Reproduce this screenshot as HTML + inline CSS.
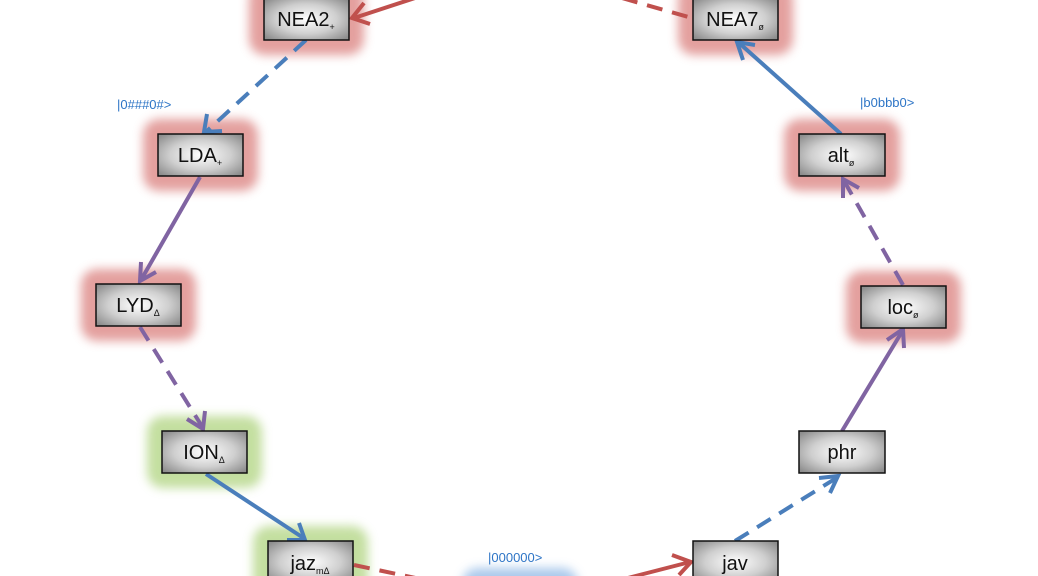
<!DOCTYPE html>
<html><head><meta charset="utf-8"><style>
html,body{margin:0;padding:0;background:#fff;width:1038px;height:576px;overflow:hidden}
svg text{font-family:"Liberation Sans","DejaVu Sans",sans-serif}
</style></head><body>
<svg width="1038" height="576" viewBox="0 0 1038 576" xmlns="http://www.w3.org/2000/svg">
<defs>
<radialGradient id="g" cx="50%" cy="50%" r="65%">
<stop offset="0" stop-color="#ffffff"/><stop offset="0.55" stop-color="#cfcfcf"/><stop offset="1" stop-color="#8e8e8e"/>
</radialGradient>
<filter id="blur" x="-50%" y="-50%" width="200%" height="200%"><feGaussianBlur stdDeviation="5"/></filter>
</defs>
<g id="glows" opacity="0.85">
<rect x="249" y="-17" width="115" height="72" rx="16" fill="#df8f8d" filter="url(#blur)"/>
<rect x="678" y="-17" width="115" height="72" rx="16" fill="#df8f8d" filter="url(#blur)"/>
<rect x="143" y="119" width="115" height="72" rx="16" fill="#df8f8d" filter="url(#blur)"/>
<rect x="81" y="269" width="115" height="72" rx="16" fill="#df8f8d" filter="url(#blur)"/>
<rect x="147" y="416" width="115" height="72" rx="16" fill="#b9d98f" filter="url(#blur)"/>
<rect x="253" y="526" width="115" height="72" rx="16" fill="#b9d98f" filter="url(#blur)"/>
<rect x="784" y="119" width="116" height="72" rx="16" fill="#df8f8d" filter="url(#blur)"/>
<rect x="846" y="271" width="115" height="72" rx="16" fill="#df8f8d" filter="url(#blur)"/>
<rect x="462" y="568" width="116" height="36" rx="16" fill="#9cc0e8" filter="url(#blur)"/>
</g>
<g fill="none" stroke-width="4" stroke-linecap="butt">
<line x1="415" y1="-2" x2="354" y2="18" stroke="#c0504d"/>
<polyline points="364,3 352,18 370,24" stroke="#c0504d"/>
<line x1="622" y1="-2" x2="692" y2="18" stroke="#c0504d" stroke-dasharray="16,10"/>
<line x1="306" y1="40" x2="207" y2="131" stroke="#4a7ebb" stroke-dasharray="16,10"/>
<polyline points="207,114 204,132 222,131" stroke="#4a7ebb"/>
<line x1="200" y1="177" x2="141" y2="280" stroke="#8064a2"/>
<polyline points="141,262 140,281 156,272" stroke="#8064a2"/>
<line x1="140" y1="327" x2="203" y2="428" stroke="#8064a2" stroke-dasharray="16,10"/>
<polyline points="187,419 203,429 205,411" stroke="#8064a2"/>
<line x1="206" y1="474" x2="305" y2="539" stroke="#4a7ebb"/>
<polyline points="287,540 305,540 299,523" stroke="#4a7ebb"/>
<line x1="354" y1="565" x2="425" y2="580" stroke="#c0504d" stroke-dasharray="16,10"/>
<line x1="620" y1="580" x2="690" y2="562" stroke="#c0504d"/>
<polyline points="672,555 691,562 679,575" stroke="#c0504d"/>
<line x1="735" y1="541" x2="838" y2="477" stroke="#4a7ebb" stroke-dasharray="16,10"/>
<polyline points="819,478 838,476 830,493" stroke="#4a7ebb"/>
<line x1="842" y1="431" x2="903" y2="330" stroke="#8064a2"/>
<polyline points="887,340 903,329 904,348" stroke="#8064a2"/>
<line x1="903" y1="285" x2="843" y2="179" stroke="#8064a2" stroke-dasharray="16,10"/>
<polyline points="843,198 843,179 859,188" stroke="#8064a2"/>
<line x1="841" y1="134" x2="738" y2="42" stroke="#4a7ebb"/>
<polyline points="743,60 737,42 755,45" stroke="#4a7ebb"/>
</g>
<rect x="475" y="-5" width="90" height="8" fill="#fff"/>
<g stroke="#111" stroke-width="1.5" fill="url(#g)">
<rect x="264" y="-2" width="85" height="42"/>
<rect x="693" y="-2" width="85" height="42"/>
<rect x="158" y="134" width="85" height="42"/>
<rect x="96" y="284" width="85" height="42"/>
<rect x="162" y="431" width="85" height="42"/>
<rect x="268" y="541" width="85" height="42"/>
<rect x="693" y="541" width="85" height="42"/>
<rect x="799" y="431" width="86" height="42"/>
<rect x="861" y="286" width="85" height="42"/>
<rect x="799" y="134" width="86" height="42"/>
</g>
<g font-size="20" fill="#111" text-anchor="middle">
<text x="306" y="26">NEA2<tspan font-size="9" dy="4">+</tspan></text>
<text x="735" y="26">NEA7<tspan font-size="9" dy="4">ø</tspan></text>
<text x="200" y="162">LDA<tspan font-size="9" dy="4">+</tspan></text>
<text x="138" y="312">LYD<tspan font-size="9" dy="4">Δ</tspan></text>
<text x="204" y="459">ION<tspan font-size="9" dy="4">Δ</tspan></text>
<text x="310" y="570">jaz<tspan font-size="9" dy="4">mΔ</tspan></text>
<text x="735" y="570">jav</text>
<text x="842" y="459">phr</text>
<text x="903" y="314">loc<tspan font-size="9" dy="4">ø</tspan></text>
<text x="841" y="162">alt<tspan font-size="9" dy="4">ø</tspan></text>
</g>
<g font-size="13" fill="#2e75c6">
<text x="117" y="109">|0###0#&gt;</text>
<text x="860" y="107">|b0bbb0&gt;</text>
<text x="488" y="562">|000000&gt;</text>
</g>
</svg>
</body></html>
